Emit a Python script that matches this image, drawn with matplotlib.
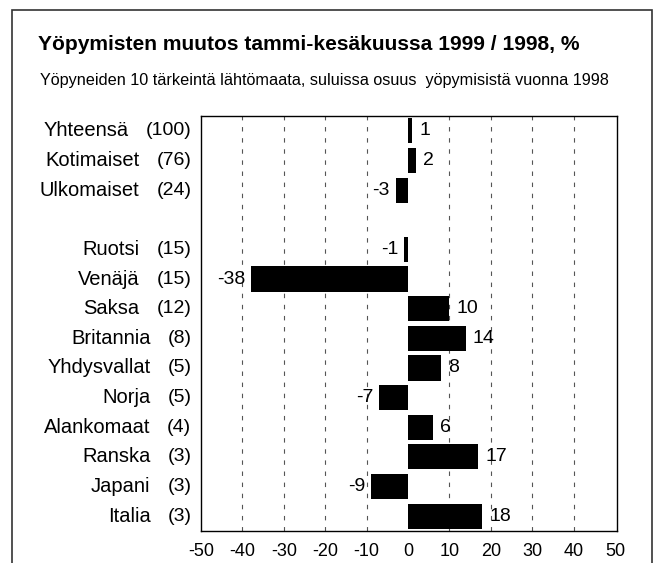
import matplotlib.pyplot as plt
from matplotlib.patches import Rectangle

# data
names = ["Yhteensä", "Kotimaiset", "Ulkomaiset",
         "Ruotsi", "Venäjä", "Saksa", "Britannia", "Yhdysvallat",
         "Norja", "Alankomaat", "Ranska", "Japani", "Italia"]
shares = [100, 76, 24, 15, 15, 12, 8, 5, 5, 4, 3, 3, 3]
changes = [1, 2, -3, -1, -38, 10, 14, 8, -7, 6, 17, -9, 18]
# row slot for each bar (one empty slot after the totals)
rows = [0, 1, 2, 4, 5, 6, 7, 8, 9, 10, 11, 12, 13]
xticks = [-50, -40, -30, -20, -10, 0, 10, 20, 30, 40, 50]

plt.rcParams['font.family'] = ['Liberation Sans', 'DejaVu Sans']
plt.rcParams['axes.unicode_minus'] = False

fig = plt.figure(figsize=(6.63, 5.63), dpi=100)
fig.patches.append(Rectangle((12 / 663, -0.05), 640 / 663, 1.05 - 10 / 563,
                             transform=fig.transFigure, fill=False,
                             edgecolor='#333333', linewidth=1.2))

fig.text(38 / 663, 1 - 45 / 563, "Yöpymisten muutos tammi-kesäkuussa 1999 / 1998, %",
         fontsize=15.1, fontweight='bold', ha='left', va='center')
fig.text(40 / 663, 1 - 80 / 563,
         "Yöpyneiden 10 tärkeintä lähtömaata, suluissa osuus  yöpymisistä vuonna 1998",
         fontsize=11.7, ha='left', va='center')

ax = fig.add_axes([201 / 663, 1 - 531 / 563, 416 / 663, 415 / 563])
ax.barh(rows, changes, height=0.85, color='black')

for x in xticks[1:-1]:
    if x != 0:
        ax.axvline(x, color='#555555', linestyle=(0, (4, 6)), linewidth=0.8, zorder=0)

for r, v in zip(rows, changes):
    if v >= 0:
        ax.annotate(str(v), (v, r), xytext=(5, 0), textcoords='offset points',
                    ha='left', va='center', fontsize=14)
    else:
        ax.annotate(str(v), (v, r), xytext=(-4, 0), textcoords='offset points',
                    ha='right', va='center', fontsize=14)

# category labels: name then share in brackets
for r, n, s in zip(rows, names, shares):
    t = ax.annotate("(%d)" % s, (0, r), xycoords=('axes fraction', 'data'),
                    xytext=(-7, 0), textcoords='offset points',
                    ha='right', va='center', fontsize=14)
    ax.annotate(n, (0, 0.5), xycoords=t, xytext=(-12, 0),
                textcoords='offset points', ha='right', va='center', fontsize=14.5)

ax.set_xlim(-50, 50.5)
ax.set_ylim(13.5, -0.5)
ax.set_xticks(xticks)
ax.tick_params(axis='x', length=0, labelsize=13, pad=9)
ax.set_yticks([])
for sp in ax.spines.values():
    sp.set_linewidth(1.0)

fig.savefig("out.png", dpi=100)
